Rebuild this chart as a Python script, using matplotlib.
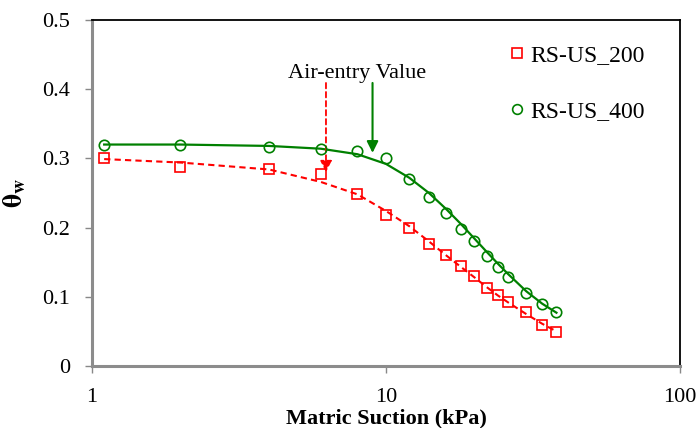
import matplotlib
matplotlib.use("Agg")
import matplotlib.pyplot as plt
from matplotlib.lines import Line2D

plt.rcParams['font.family'] = ['Liberation Serif', 'DejaVu Serif']
plt.rcParams['mathtext.fontset'] = 'stix'

# measured points
suction = [1.1, 2, 4, 6, 8, 10, 12, 14, 16, 18, 20, 22, 24, 26, 30, 34, 38]
theta_200 = [0.300, 0.287, 0.285, 0.278, 0.248, 0.218, 0.199, 0.176, 0.160, 0.145,
             0.130, 0.113, 0.103, 0.092, 0.078, 0.059, 0.049]
theta_400 = [0.320, 0.320, 0.316, 0.314, 0.311, 0.300, 0.270, 0.244, 0.221, 0.198,
             0.181, 0.159, 0.143, 0.129, 0.106, 0.090, 0.078]

# fitted SWCC curves
fit_suction = [1.1, 2, 4, 6, 8, 10, 12, 14, 16, 18, 20, 22, 24, 26, 30, 34, 38]
fit_200 = [0.299, 0.294, 0.284, 0.266, 0.248, 0.224, 0.202, 0.180, 0.160, 0.143,
           0.128, 0.114, 0.102, 0.092, 0.075, 0.061, 0.050]
fit_400 = [0.320, 0.320, 0.318, 0.314, 0.306, 0.292, 0.272, 0.250, 0.227, 0.205,
           0.184, 0.165, 0.148, 0.133, 0.108, 0.090, 0.077]

# air-entry values (kPa)
aev_200 = 6.25
aev_400 = 9.0

fig = plt.figure(figsize=(6.99, 4.28), dpi=100)
ax = fig.add_axes([0.1316, 0.1449, 0.8412, 0.8084])

red = '#ff0000'
green = '#008000'

ax.plot(fit_suction, fit_200, color=red, lw=1.5, ls=(0, (3, 2)), zorder=3)
ax.plot(fit_suction, fit_400, color=green, lw=1.6, zorder=3)
ax.plot(suction, theta_200, ls='none', marker='s', ms=7, mfc='none', mec=red, mew=1.2, zorder=4)
ax.plot(suction, theta_400, ls='none', marker='o', ms=7.5, mfc='none', mec=green, mew=1.2, zorder=4)

ax.set_xscale('log')
ax.set_xlim(1, 100)
ax.set_ylim(0, 0.5)
ax.set_yticks([0, 0.1, 0.2, 0.3, 0.4, 0.5])
ax.set_yticklabels(['0', '0.1', '0.2', '0.3', '0.4', '0.5'])
ax.set_xticks([1, 10, 100])
ax.set_xticklabels(['1', '10', '100'])
ax.minorticks_off()

ax.tick_params(axis='y', direction='out', length=5, width=1, color='#888888', labelsize=16, pad=11)
ax.tick_params(axis='x', direction='out', length=5, width=1, color='#888888', labelsize=16, pad=11)

for s in ['left', 'bottom']:
    ax.spines[s].set_color('#8c8c8c')
    ax.spines[s].set_linewidth(2.2)
for s in ['top', 'right']:
    ax.spines[s].set_color('black')
    ax.spines[s].set_linewidth(1.3)

ax.set_xlabel('Matric Suction (kPa)', fontsize=16, fontweight='bold', labelpad=1)
ax.set_ylabel(r'$\mathbf{\theta}_{\mathbf{w}}$', fontsize=20, labelpad=10)

ax.text(8, 0.423, 'Air-entry Value', fontsize=16, ha='center', va='center')
ax.annotate('', xy=(aev_200, 0.280), xytext=(aev_200, 0.409),
            arrowprops=dict(arrowstyle='-|>', color=red, lw=1.3, ls=(0, (3, 2)),
                            mutation_scale=17, shrinkA=0, shrinkB=0))
ax.annotate('', xy=(aev_400, 0.308), xytext=(aev_400, 0.409),
            arrowprops=dict(arrowstyle='-|>', color=green, lw=1.5, mutation_scale=17,
                            shrinkA=0, shrinkB=0))

handles = [
    Line2D([], [], ls='none', marker='s', ms=7, mfc='none', mec=red, mew=1.2),
    Line2D([], [], ls='none', marker='o', ms=7, mfc='none', mec=green, mew=1.2),
]
ax.legend(handles, ['RS-US_200', 'RS-US_400'], loc='upper left',
          bbox_to_anchor=(0.67, 0.99), frameon=False, fontsize=17,
          handlelength=0.8, handletextpad=0.2, labelspacing=1.45)

fig.savefig('out.png', dpi=100)
